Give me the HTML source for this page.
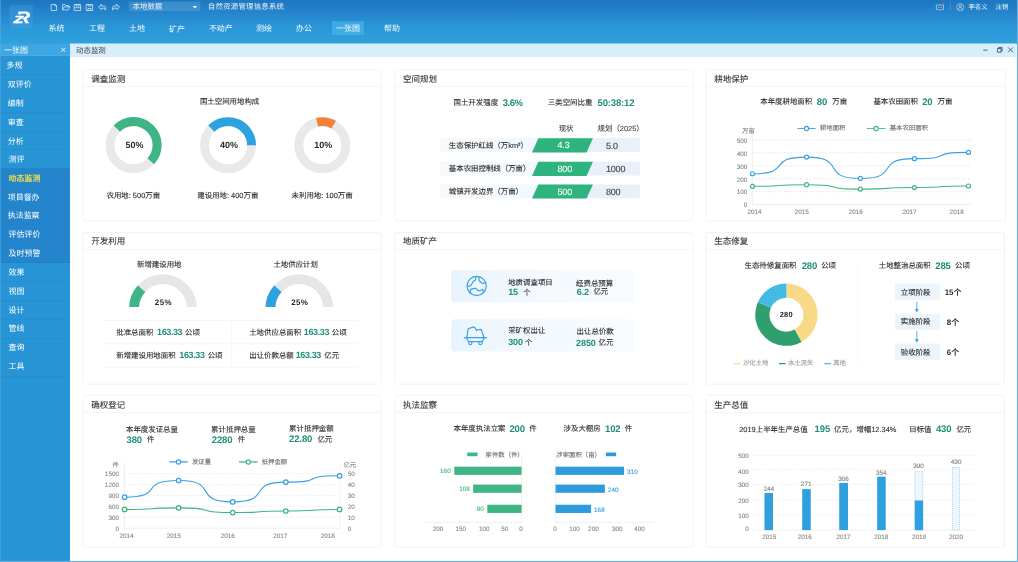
<!DOCTYPE html>
<html lang="zh-CN">
<head>
<meta charset="utf-8">
<title>自然资源管理信息系统</title>
<style>
html,body{margin:0;padding:0;width:1018px;height:562px;overflow:hidden;background:#fff}
#stage{position:absolute;left:0;top:0;width:1920px;height:1060px;transform:scale(0.530208,0.530189);transform-origin:0 0;font-family:"Liberation Sans","Noto Sans CJK SC",sans-serif;background:#fff;overflow:hidden;text-rendering:geometricPrecision;-webkit-text-stroke:0.18px}
.a{position:absolute;display:block}
.t{position:absolute;white-space:nowrap;display:block}
.hdr,.tabbar,.side{-webkit-text-stroke:0}
.hdr{color:#fff;background:linear-gradient(180deg,#1c77c0 0%,#2585cc 30%,#2a98d7 65%,#2fa1dc 100%)}
.logo{background:rgba(70,160,225,.38)}
.side{background:#2795d5}
.tabbar{background:#d8eefc;border-bottom:1px solid #d3e6f1;box-sizing:border-box}
.frame{position:absolute;left:0;top:0;width:1920px;height:1060px;box-sizing:border-box;border-right:2.200px solid #68aede;border-bottom:2.200px solid #68aede;border-left:1px solid #58aee3;pointer-events:none}
.card{position:absolute;box-sizing:border-box;background:#fff;border:1px solid #e8e8ec;border-radius:4.500px;margin:0}
.card .ct{position:absolute;left:0;top:0;right:0;margin:0;padding:0 0 0 15.500px;box-sizing:content-box;overflow:hidden;font-size:16px;line-height:32px;font-weight:400;color:#333;border-bottom:1px solid #ececef}
.card > .a, .card > .t{margin:-1px 0 0 -1px}
</style>
</head>
<body>
<div id="stage">
<header class="a hdr" style="left:0;top:0;width:1920px;height:82.500px"><div class="a logo" style="left:17.500px;top:10px;width:44.500px;height:44px"><svg class="a" style="left:0;top:0" width="45" height="44" viewBox="17.5 10 45 44" font-family='"Liberation Sans",sans-serif' font-weight="700" font-style="italic" fill="#fff" stroke="#fff"><text transform="translate(29 43.300) scale(1.2 1)" font-size="31" stroke-width="0.500">R</text><text transform="translate(25.300 43.300) scale(1.5 1)" font-size="19.500" stroke-width="0.900" style="filter:drop-shadow(1.200px 0 0 #2b90d6) drop-shadow(0 -1.200px 0 #2b90d6)">Z</text></svg></div>
<svg class="a" style="left:84.87px;top:0" width="150.88" height="30.18" viewBox="45 0 80 16" fill="none" stroke="#fff" stroke-width="0.700" stroke-opacity=".88" stroke-linejoin="round" stroke-linecap="round">
<path d="M51.500 4.500H55L56.500 6V10.500H51.500ZM55 4.500V6H56.500"/>
<path d="M62.500 9.600V4.500H65L65.800 5.500H68.500V6.800M62.500 9.600L64 6.800H70L68.300 9.600Z"/>
<path d="M74.500 4.500H80.500V10.500H74.500ZM74.500 7.700H80.500M76 4.500V6H79V4.500"/>
<path d="M86.500 4.500H92.500V10.500H86.500ZM88 4.500V6H91V4.500M88 10.500V8.500H91V10.500"/>
<path d="M101.300 4.500L98.500 7L101.300 9.500V8.100H103Q104.800 8.100 104.800 9.800H105.600V8Q105.600 5.900 103.200 5.900H101.300Z"/>
<path d="M116.700 4.500L119.500 7L116.700 9.500V8.100H115Q113.200 8.100 113.200 9.800H112.400V8Q112.400 5.900 114.800 5.900H116.700Z"/>
</svg>
<div class="a" style="left:243.0px;top:3.0px;width:135.0px;height:18.0px;background:rgba(255,255,255,.13);border-radius:1px"></div>
<span class="t" style="left:250.0px;top:-2.5px;font-size:14px;line-height:28px;color:rgba(255,255,255,.88);">本地数据</span>
<svg class="a" style="left:362.500px;top:10.500px" width="9" height="5" viewBox="0 0 9 5"><path d="M0.300 0.300h8.400L4.500 4.800z" fill="#fff" fill-opacity=".9"/></svg>
<span class="t" style="left:392.0px;top:-2.4px;font-size:14px;line-height:28px;color:rgba(255,255,255,.88);letter-spacing:0.4px;">自然资源管理信息系统</span>
<span class="t" style="left:91.4px;top:39.6px;font-size:15px;line-height:30px;color:rgba(255,255,255,.95);">系统</span>
<span class="t" style="left:168.0px;top:39.6px;font-size:15px;line-height:30px;color:rgba(255,255,255,.95);">工程</span>
<span class="t" style="left:243.3px;top:39.6px;font-size:15px;line-height:30px;color:rgba(255,255,255,.95);">土地</span>
<span class="t" style="left:318.7px;top:40.6px;font-size:15px;line-height:30px;color:rgba(255,255,255,.95);">矿产</span>
<span class="t" style="left:394.0px;top:39.6px;font-size:15px;line-height:30px;color:rgba(255,255,255,.95);">不动产</span>
<span class="t" style="left:483.0px;top:39.6px;font-size:15px;line-height:30px;color:rgba(255,255,255,.95);">测绘</span>
<span class="t" style="left:558.3px;top:39.6px;font-size:15px;line-height:30px;color:rgba(255,255,255,.95);">办公</span>
<div class="a" style="left:625.7px;top:40.0px;width:60.0px;height:26.0px;background:rgba(80,185,240,.6)"></div>
<span class="t" style="left:633.7px;top:39.6px;font-size:15px;line-height:30px;color:rgba(255,255,255,.95);">一张图</span>
<span class="t" style="left:724.2px;top:39.6px;font-size:15px;line-height:30px;color:rgba(255,255,255,.95);">帮助</span>
<svg class="a" style="left:1755px;top:2px" width="70" height="22" viewBox="1755 2 70 22" fill="none" stroke="#fff" stroke-width="1.2" stroke-opacity=".76">
<path d="M1766 9.500h13.500v8.500h-5l-2 2.200-2-2.200h-4.500z"/><circle cx="1769.600" cy="13.800" r=".8" fill="#fff" stroke="none"/><circle cx="1772.800" cy="13.800" r=".8" fill="#fff" stroke="none"/><circle cx="1776" cy="13.800" r=".8" fill="#fff" stroke="none"/>
<circle cx="1779" cy="8" r="2" fill="#f4564a" stroke="none" />
<path d="M1792.300 5v15" stroke-opacity=".3"/>
<circle cx="1811.100" cy="13.500" r="6.700"/><circle cx="1811.100" cy="11.600" r="2.400"/><path d="M1806.500 18.300c1-2.700 2.600-3.700 4.600-3.700s3.600 1 4.600 3.700"/>
</svg>
<span class="t" style="left:1826.6px;top:0.8px;font-size:12px;line-height:24px;color:rgba(255,255,255,.9);">李名义</span>
<span class="t" style="left:1877.7px;top:0.8px;font-size:12px;line-height:24px;color:rgba(255,255,255,.9);">注销</span></header>
<nav class="a side" style="left:0;top:82px;width:132px;height:978px"><div class="a" style="left:0.0px;top:0.0px;width:132.0px;height:23.4px;background:#3ea6e2;border-bottom:1px solid rgba(255,255,255,.25);box-sizing:border-box"></div>
<span class="t" style="left:7.8px;top:-0.8px;font-size:15px;line-height:30px;color:#fff;">一张图</span>
<span class="t" style="left:119.5px;top:-6.2px;font-size:18px;line-height:36px;color:rgba(255,255,255,.8);transform:translateX(-50%);">×</span>
<div class="a" style="left:0.0px;top:23.4px;width:132.0px;height:35.5px;border-bottom:1px solid rgba(0,40,90,.10);box-sizing:border-box"></div>
<span class="t" style="left:12.3px;top:27.5px;font-size:15px;line-height:30px;color:#fff;">多规</span>
<div class="a" style="left:0.0px;top:58.9px;width:132.0px;height:35.5px;border-bottom:1px solid rgba(0,40,90,.10);box-sizing:border-box"></div>
<span class="t" style="left:14.6px;top:63.1px;font-size:15px;line-height:30px;color:#fff;">双评价</span>
<div class="a" style="left:0.0px;top:94.5px;width:132.0px;height:35.5px;border-bottom:1px solid rgba(0,40,90,.10);box-sizing:border-box"></div>
<span class="t" style="left:14.6px;top:98.6px;font-size:15px;line-height:30px;color:#fff;">编制</span>
<div class="a" style="left:0.0px;top:130.1px;width:132.0px;height:35.5px;border-bottom:1px solid rgba(0,40,90,.10);box-sizing:border-box"></div>
<span class="t" style="left:14.6px;top:134.2px;font-size:15px;line-height:30px;color:#fff;">审查</span>
<div class="a" style="left:0.0px;top:165.6px;width:132.0px;height:35.5px;border-bottom:1px solid rgba(0,40,90,.10);box-sizing:border-box"></div>
<span class="t" style="left:14.6px;top:169.7px;font-size:15px;line-height:30px;color:#fff;">分析</span>
<div class="a" style="left:0.0px;top:201.2px;width:132.0px;height:35.5px;border-bottom:1px solid rgba(0,40,90,.10);box-sizing:border-box"></div>
<span class="t" style="left:16.2px;top:204.1px;font-size:15px;line-height:30px;color:#fff;">测评</span>
<div class="a" style="left:0.0px;top:234.5px;width:132.0px;height:2.4px;background:#2485cd"></div>
<div class="a" style="left:0.0px;top:236.7px;width:132.0px;height:35.5px;background:#2485cd;border-bottom:1px solid rgba(0,40,90,.10);box-sizing:border-box"></div>
<span class="t" style="left:16.2px;top:240.0px;font-size:15px;line-height:30px;color:#ffe640;-webkit-text-stroke:0.3px;">动态监测</span>
<div class="a" style="left:0.0px;top:272.3px;width:132.0px;height:35.5px;background:#2485cd;border-bottom:1px solid rgba(0,40,90,.10);box-sizing:border-box"></div>
<span class="t" style="left:14.6px;top:275.5px;font-size:15px;line-height:30px;color:#fff;">项目督办</span>
<div class="a" style="left:0.0px;top:307.8px;width:132.0px;height:35.5px;background:#2485cd;border-bottom:1px solid rgba(0,40,90,.10);box-sizing:border-box"></div>
<span class="t" style="left:14.6px;top:309.7px;font-size:15px;line-height:30px;color:#fff;">执法监察</span>
<div class="a" style="left:0.0px;top:343.4px;width:132.0px;height:35.5px;background:#2485cd;border-bottom:1px solid rgba(0,40,90,.10);box-sizing:border-box"></div>
<span class="t" style="left:16.1px;top:346.3px;font-size:15px;line-height:30px;color:#fff;">评估评价</span>
<div class="a" style="left:0.0px;top:378.9px;width:132.0px;height:35.5px;background:#2485cd;border-bottom:1px solid rgba(0,40,90,.10);box-sizing:border-box"></div>
<span class="t" style="left:16.1px;top:381.8px;font-size:15px;line-height:30px;color:#fff;">及时预警</span>
<div class="a" style="left:0.0px;top:414.5px;width:132.0px;height:35.5px;border-bottom:1px solid rgba(0,40,90,.10);box-sizing:border-box"></div>
<span class="t" style="left:16.1px;top:417.0px;font-size:15px;line-height:30px;color:#fff;">效果</span>
<div class="a" style="left:0.0px;top:450.0px;width:132.0px;height:35.5px;border-bottom:1px solid rgba(0,40,90,.10);box-sizing:border-box"></div>
<span class="t" style="left:16.1px;top:452.5px;font-size:15px;line-height:30px;color:#fff;">视图</span>
<div class="a" style="left:0.0px;top:485.6px;width:132.0px;height:35.5px;border-bottom:1px solid rgba(0,40,90,.10);box-sizing:border-box"></div>
<span class="t" style="left:16.1px;top:488.8px;font-size:15px;line-height:30px;color:#fff;">设计</span>
<div class="a" style="left:0.0px;top:521.1px;width:132.0px;height:35.5px;border-bottom:1px solid rgba(0,40,90,.10);box-sizing:border-box"></div>
<span class="t" style="left:16.1px;top:523.6px;font-size:15px;line-height:30px;color:#fff;">管线</span>
<div class="a" style="left:0.0px;top:556.6px;width:132.0px;height:35.5px;border-bottom:1px solid rgba(0,40,90,.10);box-sizing:border-box"></div>
<span class="t" style="left:16.1px;top:559.2px;font-size:15px;line-height:30px;color:#fff;">查询</span>
<div class="a" style="left:0.0px;top:592.2px;width:132.0px;height:35.5px;border-bottom:1px solid rgba(0,40,90,.10);box-sizing:border-box"></div>
<span class="t" style="left:16.1px;top:594.7px;font-size:15px;line-height:30px;color:#fff;">工具</span></nav>
<div class="a tabbar" style="left:132px;top:82px;width:1785px;height:25px"><span class="t" style="left:11.5px;top:-1.2px;font-size:14px;line-height:28px;color:#36404e;">动态监测</span>
<svg class="a" style="left:1712.500px;top:2.600px" width="70" height="18" viewBox="1842 84 70 18" fill="none" stroke="#2f4f70" stroke-width="1.6">
<path d="M1851.500 93.500h8"/><path d="M1878.500 90.500h6.500v7h-6.500z"/><path d="M1880.500 90.500v-2h6.500v7h-2"/><path d="M1898.500 88.500l9 9M1907.500 88.500l-9 9"/></svg></div>
<section class="card" style="left:155.6px;top:130.5px;width:563.2px;height:286.4px"><h2 class="ct" style="padding-top:2.1px;height:28.9px">调查监测</h2>
<span class="t" style="left:277.4px;top:47.4px;font-size:14px;line-height:28px;color:#2b2b2b;transform:translateX(-50%);">国土空间用地构成</span>
<span class="t" style="left:98.0px;top:127.2px;font-size:17px;line-height:34px;color:#2b2b2b;font-weight:700;-webkit-text-stroke:0;transform:translateX(-50%);">50%</span>
<span class="t" style="left:95.8px;top:224.4px;font-size:14px;line-height:28px;color:#2b2b2b;transform:translateX(-50%);">农用地: 500万亩</span>
<span class="t" style="left:276.3px;top:127.2px;font-size:17px;line-height:34px;color:#2b2b2b;font-weight:700;-webkit-text-stroke:0;transform:translateX(-50%);">40%</span>
<span class="t" style="left:274.1px;top:224.4px;font-size:14px;line-height:28px;color:#2b2b2b;transform:translateX(-50%);">建设用地: 400万亩</span>
<span class="t" style="left:454.1px;top:127.2px;font-size:17px;line-height:34px;color:#2b2b2b;font-weight:700;-webkit-text-stroke:0;transform:translateX(-50%);">10%</span>
<span class="t" style="left:451.9px;top:224.4px;font-size:14px;line-height:28px;color:#2b2b2b;transform:translateX(-50%);">未利用地: 100万亩</span>
<svg class="a" style="left:0;top:0" width="566" height="288" viewBox="155.6 130.5 566 288"><circle cx="251.4" cy="273.400" r="44.400" fill="none" stroke="#e9e9e8" stroke-width="16.800"/><path d="M214.06 236.06A52.8 52.8 0 0 1 290.02 309.41L277.73 297.95A36 36 0 0 0 225.94 247.94Z" fill="#3db585"/><circle cx="429.7" cy="273.400" r="44.400" fill="none" stroke="#e9e9e8" stroke-width="16.800"/><path d="M392.36 236.06A52.8 52.8 0 0 1 482.50 273.40L465.70 273.40A36 36 0 0 0 404.24 247.94Z" fill="#2ea2e0"/><circle cx="607.5" cy="273.400" r="44.400" fill="none" stroke="#e9e9e8" stroke-width="16.800"/><path d="M595.62 221.95A52.8 52.8 0 0 1 633.10 227.22L624.95 241.91A36 36 0 0 0 599.40 238.32Z" fill="#f0823a"/></svg>
</section>
<section class="card" style="left:743.7px;top:130.5px;width:563.3px;height:286.4px"><h2 class="ct" style="padding-top:2.1px;height:28.9px">空间规划</h2>
<span class="t" style="left:111.7px;top:48.4px;font-size:14px;line-height:28px;color:#2b2b2b;">国土开发强度</span>
<span class="t" style="left:204.7px;top:45.1px;font-size:18px;line-height:36px;color:#1f8f79;font-weight:700;-webkit-text-stroke:0;letter-spacing:-1px;">3.6%</span>
<span class="t" style="left:289.5px;top:48.4px;font-size:14px;line-height:28px;color:#2b2b2b;">三类空间比重</span>
<span class="t" style="left:383.2px;top:45.1px;font-size:18px;line-height:36px;color:#1f8f79;font-weight:700;-webkit-text-stroke:0;letter-spacing:-0.3px;">50:38:12</span>
<span class="t" style="left:324.0px;top:97.2px;font-size:14px;line-height:28px;color:#444;transform:translateX(-50%);">现状</span>
<span class="t" style="left:383.3px;top:97.2px;font-size:14px;line-height:28px;color:#444;">规划（2025）</span>
<div class="a" style="left:86.3px;top:129.9px;width:377.5px;height:26.6px;background:linear-gradient(90deg,#f6fafd 0,#f3f8fc 48%,#e8f1f9 52%,#e8f1f9 100%)"></div>
<span class="t" style="left:102.8px;top:129.3px;font-size:14px;line-height:28px;color:#2b2b2b;">生态保护红线（万km²）</span>
<div class="a" style="left:86.3px;top:174.2px;width:377.5px;height:26.6px;background:linear-gradient(90deg,#f6fafd 0,#f3f8fc 48%,#e8f1f9 52%,#e8f1f9 100%)"></div>
<span class="t" style="left:102.8px;top:173.6px;font-size:14px;line-height:28px;color:#2b2b2b;">基本农田控制线（万亩）</span>
<div class="a" style="left:86.3px;top:217.0px;width:377.5px;height:26.6px;background:linear-gradient(90deg,#f6fafd 0,#f3f8fc 48%,#e8f1f9 52%,#e8f1f9 100%)"></div>
<span class="t" style="left:102.8px;top:216.4px;font-size:14px;line-height:28px;color:#2b2b2b;">城镇开发边界（万亩）</span>
<svg class="a" style="left:0;top:0" width="566" height="288" viewBox="743.7 130.5 566 288"><path d="M1015 260.4H1118L1106 287.0H1003Z" fill="#2fb37f"/><path d="M1015 304.7H1118L1106 331.3H1003Z" fill="#2fb37f"/><path d="M1015 347.5H1118L1106 374.1H1003Z" fill="#2fb37f"/></svg>
<span class="t" style="left:307.9px;top:127.4px;font-size:17px;line-height:34px;color:#fff;letter-spacing:-0.4px;">4.3</span>
<span class="t" style="left:399.3px;top:128.1px;font-size:17px;line-height:34px;color:#3c3c3c;letter-spacing:-0.4px;">5.0</span>
<span class="t" style="left:307.9px;top:172.2px;font-size:17px;line-height:34px;color:#fff;letter-spacing:-0.4px;">800</span>
<span class="t" style="left:399.3px;top:172.2px;font-size:17px;line-height:34px;color:#3c3c3c;letter-spacing:-0.4px;">1000</span>
<span class="t" style="left:307.9px;top:215.6px;font-size:17px;line-height:34px;color:#fff;letter-spacing:-0.4px;">500</span>
<span class="t" style="left:399.3px;top:215.6px;font-size:17px;line-height:34px;color:#3c3c3c;letter-spacing:-0.4px;">800</span>
</section>
<section class="card" style="left:1330.8px;top:130.5px;width:565.9px;height:286.4px"><h2 class="ct" style="padding-top:2.1px;height:28.9px">耕地保护</h2>
<span class="t" style="left:103.1px;top:47.4px;font-size:14px;line-height:28px;color:#2b2b2b;">本年度耕地面积</span>
<span class="t" style="left:209.8px;top:43.7px;font-size:18px;line-height:36px;color:#1f8f79;font-weight:700;-webkit-text-stroke:0;letter-spacing:-0.3px;">80</span>
<span class="t" style="left:238.8px;top:47.4px;font-size:14px;line-height:28px;color:#2b2b2b;">万亩</span>
<span class="t" style="left:316.5px;top:47.4px;font-size:14px;line-height:28px;color:#2b2b2b;">基本农田面积</span>
<span class="t" style="left:408.4px;top:43.7px;font-size:18px;line-height:36px;color:#1f8f79;font-weight:700;-webkit-text-stroke:0;letter-spacing:-0.3px;">20</span>
<span class="t" style="left:437.4px;top:47.4px;font-size:14px;line-height:28px;color:#2b2b2b;">万亩</span>
<svg class="a" style="left:0;top:0" width="566" height="288" viewBox="1330.8 130.5 566 288"><path d="M1418.5 263.3H1831" stroke="#cdcdcd" stroke-width="1" stroke-dasharray="3 3"/><path d="M1418.5 287.7H1831" stroke="#cdcdcd" stroke-width="1" stroke-dasharray="3 3"/><path d="M1418.5 312.2H1831" stroke="#cdcdcd" stroke-width="1" stroke-dasharray="3 3"/><path d="M1418.5 336.6H1831" stroke="#cdcdcd" stroke-width="1" stroke-dasharray="3 3"/><path d="M1418.5 361.1H1831" stroke="#cdcdcd" stroke-width="1" stroke-dasharray="3 3"/><path d="M1418.5 248V385.5H1831" stroke="#dedede" stroke-width="1" fill="none"/><path d="M1419.0 327.2C1498.6 327.2 1441.4 295.8 1521.0 295.8C1600.2 295.8 1543.3 336.1 1622.5 336.1C1702.0 336.1 1644.9 298.7 1724.4 298.7C1804.0 298.7 1746.8 286.9 1826.4 286.9" fill="none" stroke="#3a9fe0" stroke-width="2"/><circle cx="1419" cy="327.2" r="3.8" fill="#fff" stroke="#3a9fe0" stroke-width="2.2"/><circle cx="1521" cy="295.8" r="3.8" fill="#fff" stroke="#3a9fe0" stroke-width="2.2"/><circle cx="1622.5" cy="336.1" r="3.8" fill="#fff" stroke="#3a9fe0" stroke-width="2.2"/><circle cx="1724.4" cy="298.7" r="3.8" fill="#fff" stroke="#3a9fe0" stroke-width="2.2"/><circle cx="1826.4" cy="286.9" r="3.8" fill="#fff" stroke="#3a9fe0" stroke-width="2.2"/><path d="M1419.0 350.9C1498.6 350.9 1441.4 347.9 1521.0 347.9C1600.2 347.9 1543.3 356.2 1622.5 356.2C1702.0 356.2 1644.9 353.3 1724.4 353.3C1804.0 353.3 1746.8 350.3 1826.4 350.3" fill="none" stroke="#3db585" stroke-width="2"/><circle cx="1419" cy="350.9" r="3.8" fill="#fff" stroke="#3db585" stroke-width="2.2"/><circle cx="1521" cy="347.9" r="3.8" fill="#fff" stroke="#3db585" stroke-width="2.2"/><circle cx="1622.5" cy="356.2" r="3.8" fill="#fff" stroke="#3db585" stroke-width="2.2"/><circle cx="1724.4" cy="353.3" r="3.8" fill="#fff" stroke="#3db585" stroke-width="2.2"/><circle cx="1826.4" cy="350.3" r="3.8" fill="#fff" stroke="#3db585" stroke-width="2.2"/><path d="M1503.4 241.8h35" stroke="#3a9fe0" stroke-width="1.7"/><circle cx="1520.9" cy="241.8" r="4" fill="#fff" stroke="#3a9fe0" stroke-width="2.200"/><path d="M1634.8 241.8h35" stroke="#3db585" stroke-width="1.7"/><circle cx="1652.3" cy="241.8" r="4" fill="#fff" stroke="#3db585" stroke-width="2.200"/></svg>
<span class="t" style="left:215.7px;top:99.0px;font-size:12px;line-height:24px;color:#6f6f6f;">耕地面积</span>
<span class="t" style="left:347.3px;top:99.0px;font-size:12px;line-height:24px;color:#6f6f6f;">基本农田面积</span>
<span class="t" style="left:68.7px;top:103.5px;font-size:12px;line-height:24px;color:#858585;">万亩</span>
<span class="t" style="left:78.7px;top:122.2px;font-size:12px;line-height:24px;color:#858585;transform:translateX(-100%);">500</span>
<span class="t" style="left:78.7px;top:147.0px;font-size:12px;line-height:24px;color:#858585;transform:translateX(-100%);">400</span>
<span class="t" style="left:78.7px;top:171.1px;font-size:12px;line-height:24px;color:#858585;transform:translateX(-100%);">300</span>
<span class="t" style="left:78.7px;top:196.2px;font-size:12px;line-height:24px;color:#858585;transform:translateX(-100%);">200</span>
<span class="t" style="left:78.7px;top:219.7px;font-size:12px;line-height:24px;color:#858585;transform:translateX(-100%);">100</span>
<span class="t" style="left:78.7px;top:244.4px;font-size:12px;line-height:24px;color:#858585;transform:translateX(-100%);">0</span>
<span class="t" style="left:92.2px;top:257.2px;font-size:12px;line-height:24px;color:#858585;transform:translateX(-50%);">2014</span>
<span class="t" style="left:181.2px;top:257.2px;font-size:12px;line-height:24px;color:#858585;transform:translateX(-50%);">2015</span>
<span class="t" style="left:283.2px;top:257.2px;font-size:12px;line-height:24px;color:#858585;transform:translateX(-50%);">2016</span>
<span class="t" style="left:384.7px;top:257.2px;font-size:12px;line-height:24px;color:#858585;transform:translateX(-50%);">2017</span>
<span class="t" style="left:473.6px;top:257.2px;font-size:12px;line-height:24px;color:#858585;transform:translateX(-50%);">2018</span>
</section>
<section class="card" style="left:155.6px;top:437.5px;width:563.2px;height:287.3px"><h2 class="ct" style="padding-top:2.7px;height:28.5px">开发利用</h2>
<span class="t" style="left:144.8px;top:46.4px;font-size:14px;line-height:28px;color:#2b2b2b;transform:translateX(-50%);">新增建设用地</span>
<span class="t" style="left:402.1px;top:46.4px;font-size:14px;line-height:28px;color:#2b2b2b;transform:translateX(-50%);">土地供应计划</span>
<span class="t" style="left:152.6px;top:118.4px;font-size:15px;line-height:30px;color:#2b2b2b;font-weight:700;-webkit-text-stroke:0;letter-spacing:0.8px;transform:translateX(-50%);">25%</span>
<span class="t" style="left:409.8px;top:118.4px;font-size:15px;line-height:30px;color:#2b2b2b;font-weight:700;-webkit-text-stroke:0;letter-spacing:0.8px;transform:translateX(-50%);">25%</span>
<svg class="a" style="left:0;top:0" width="566" height="288" viewBox="155.6 437.5 566 288"><g clip-path="url(#gclip)"><path d="M243.36 584.95A63.8 63.8 0 1 1 370.64 584.95L352.09 583.65A45.2 45.2 0 1 0 261.91 583.65Z" fill="#e6e6e6"/><path d="M243.36 584.95A63.8 63.8 0 0 1 259.59 537.81L273.41 550.26A45.2 45.2 0 0 0 261.91 583.65Z" fill="#3db585"/></g><g clip-path="url(#gclip)"><path d="M500.56 584.95A63.8 63.8 0 1 1 627.84 584.95L609.29 583.65A45.2 45.2 0 1 0 519.11 583.65Z" fill="#e6e6e6"/><path d="M500.56 584.95A63.8 63.8 0 0 1 516.79 537.81L530.61 550.26A45.2 45.2 0 0 0 519.11 583.65Z" fill="#2ea2e0"/></g><defs><clipPath id="gclip"><rect x="156" y="500" width="562" height="78.500"/></clipPath></defs><path d="M197 604H673.5M197 648H673.5M197 693H673.5" stroke="#eeeeee" stroke-width="1"/><path d="M436.500 604V693" stroke="#eeeeee" stroke-width="1"/></svg>
<span class="t" style="left:63.6px;top:174.9px;font-size:14px;line-height:28px;color:#2b2b2b;">批准总面积</span>
<span class="t" style="left:140.6px;top:172.8px;font-size:17px;line-height:34px;color:#1f8f79;font-weight:700;-webkit-text-stroke:0;letter-spacing:-0.75px;">163.33</span>
<span class="t" style="left:193.4px;top:174.9px;font-size:14px;line-height:28px;color:#2b2b2b;">公顷</span>
<span class="t" style="left:63.6px;top:218.2px;font-size:14px;line-height:28px;color:#2b2b2b;">新增建设用地面积</span>
<span class="t" style="left:182.7px;top:216.0px;font-size:17px;line-height:34px;color:#1f8f79;font-weight:700;-webkit-text-stroke:0;letter-spacing:-0.75px;">163.33</span>
<span class="t" style="left:236.1px;top:218.2px;font-size:14px;line-height:28px;color:#2b2b2b;">公顷</span>
<span class="t" style="left:314.4px;top:174.9px;font-size:14px;line-height:28px;color:#2b2b2b;">土地供应总面积</span>
<span class="t" style="left:417.5px;top:172.8px;font-size:17px;line-height:34px;color:#1f8f79;font-weight:700;-webkit-text-stroke:0;letter-spacing:-0.75px;">163.33</span>
<span class="t" style="left:470.3px;top:174.9px;font-size:14px;line-height:28px;color:#2b2b2b;">公顷</span>
<span class="t" style="left:314.4px;top:218.2px;font-size:14px;line-height:28px;color:#2b2b2b;">出让价款总额</span>
<span class="t" style="left:402.1px;top:216.0px;font-size:17px;line-height:34px;color:#1f8f79;font-weight:700;-webkit-text-stroke:0;letter-spacing:-0.75px;">163.33</span>
<span class="t" style="left:456.1px;top:218.2px;font-size:14px;line-height:28px;color:#2b2b2b;">亿元</span>
</section>
<section class="card" style="left:743.7px;top:437.5px;width:563.3px;height:287.3px"><h2 class="ct" style="padding-top:2.7px;height:28.5px">地质矿产</h2>
<div class="a" style="left:106.9px;top:71.6px;width:344.0px;height:61.0px;background:linear-gradient(90deg,#e7f3fd 0,#eff7fd 22%,#f5fafe 60%,#f7fbfe 100%);border-radius:7px"></div>
<div class="a" style="left:106.9px;top:164.1px;width:344.0px;height:61.0px;background:linear-gradient(90deg,#e7f3fd 0,#eff7fd 22%,#f5fafe 60%,#f7fbfe 100%);border-radius:7px"></div>
<svg class="a" style="left:0;top:0" width="566" height="288" viewBox="743.7 437.5 566 288"><g transform="translate(898.7 538.9)" fill="none" stroke="#3ca1e3" stroke-width="2.200" stroke-linejoin="round" stroke-linecap="round">
<circle cx="0" cy="0" r="18.100"/>
<path d="M-1.800 -17.500L-2 -11.200L-7 -8.100L-9 -4.200L-11.200 -0.700L-17.600 0.900"/>
<path d="M4.100 -17.300L4.500 -10.700Q6 -7 11.200 -4.800L17.200 -6.200"/>
<path d="M-12.800 12.800L-11.400 6.500L-2.300 4.100L3.500 9.400L11.200 6.500L12.800 12.300"/>
</g>
<g transform="translate(896.3 636.4)" fill="none" stroke="#3ca1e3" stroke-width="2.200" stroke-linejoin="round" stroke-linecap="round">
<path d="M-21 0H21"/>
<path d="M-17 0L-12.900 7.300H12.900L17 0"/>
<path d="M-12.500 7.500v3a2.900 2.900 0 0 0 5.800 0V7.500M6.700 7.500v3a2.900 2.900 0 0 0 5.800 0V7.500"/>
<path d="M-16.400 0L-13.500 -16.800L-3.500 -20.300L-0.500 -18.500L2.300 -13.300L4.800 -15L11.200 -15.600L13.500 -8L16.400 0"/>
</g></svg>
<span class="t" style="left:214.8px;top:80.5px;font-size:14px;line-height:28px;color:#2b2b2b;">地质调查项目</span>
<span class="t" style="left:214.8px;top:96.2px;font-size:17px;line-height:34px;color:#1f8f79;font-weight:700;-webkit-text-stroke:0;letter-spacing:-0.2px;">15</span>
<span class="t" style="left:243.3px;top:99.0px;font-size:14px;line-height:28px;color:#2b2b2b;">个</span>
<span class="t" style="left:342.8px;top:82.0px;font-size:14px;line-height:28px;color:#2b2b2b;">经费总预算</span>
<span class="t" style="left:344.1px;top:97.2px;font-size:17px;line-height:34px;color:#1f8f79;font-weight:700;-webkit-text-stroke:0;letter-spacing:-0.2px;">6.2</span>
<span class="t" style="left:375.5px;top:98.7px;font-size:14px;line-height:28px;color:#2b2b2b;">亿元</span>
<span class="t" style="left:214.8px;top:172.0px;font-size:14px;line-height:28px;color:#2b2b2b;">采矿权出让</span>
<span class="t" style="left:214.8px;top:191.2px;font-size:17px;line-height:34px;color:#1f8f79;font-weight:700;-webkit-text-stroke:0;letter-spacing:-0.2px;">300</span>
<span class="t" style="left:246.3px;top:193.4px;font-size:14px;line-height:28px;color:#2b2b2b;">个</span>
<span class="t" style="left:343.8px;top:173.1px;font-size:14px;line-height:28px;color:#2b2b2b;">出让总价款</span>
<span class="t" style="left:342.8px;top:192.2px;font-size:17px;line-height:34px;color:#1f8f79;font-weight:700;-webkit-text-stroke:0;letter-spacing:-0.2px;">2850</span>
<span class="t" style="left:385.3px;top:194.4px;font-size:14px;line-height:28px;color:#2b2b2b;">亿元</span>
</section>
<section class="card" style="left:1330.8px;top:437.5px;width:564.1px;height:287.3px"><h2 class="ct" style="padding-top:2.7px;height:28.5px">生态修复</h2>
<span class="t" style="left:73.4px;top:49.2px;font-size:14px;line-height:28px;color:#2b2b2b;">生态待修复面积</span>
<span class="t" style="left:181.2px;top:45.9px;font-size:18px;line-height:36px;color:#1f8f79;font-weight:700;-webkit-text-stroke:0;letter-spacing:-0.3px;">280</span>
<span class="t" style="left:218.0px;top:49.2px;font-size:14px;line-height:28px;color:#2b2b2b;">公顷</span>
<span class="t" style="left:326.5px;top:49.2px;font-size:14px;line-height:28px;color:#2b2b2b;">土地整治总面积</span>
<span class="t" style="left:433.2px;top:45.9px;font-size:18px;line-height:36px;color:#1f8f79;font-weight:700;-webkit-text-stroke:0;letter-spacing:-0.3px;">285</span>
<span class="t" style="left:470.6px;top:49.2px;font-size:14px;line-height:28px;color:#2b2b2b;">公顷</span>
<svg class="a" style="left:0;top:0" width="566" height="288" viewBox="1330.8 437.5 566 288"><path d="M1617.500 498.500V685" stroke="#eeeeee" stroke-width="1"/><path d="M1483.00 534.20A58.8 58.8 0 0 1 1511.51 644.43L1498.51 620.99A32 32 0 0 0 1483.00 561.00Z" fill="#f7d987"/><path d="M1511.51 644.43A58.8 58.8 0 0 1 1429.28 569.08L1453.77 579.98A32 32 0 0 0 1498.51 620.99Z" fill="#2f9f6f"/><path d="M1429.28 569.08A58.8 58.8 0 0 1 1483.00 534.20L1483.00 561.00A32 32 0 0 0 1453.77 579.98Z" fill="#43bbe5"/><rect x="1383.4" y="684" width="13" height="2.500" rx="1" fill="#f7d987"/><rect x="1468.8" y="684" width="13" height="2.500" rx="1" fill="#2f9f6f"/><rect x="1554.2" y="684" width="13" height="2.500" rx="1" fill="#43bbe5"/><path d="M1729 568.5V586" stroke="#3ea9e6" stroke-width="1.700"/><path d="M1725 582.5L1729 589L1733 582.5Z" fill="#3ea9e6"/><path d="M1729 624V643" stroke="#3ea9e6" stroke-width="1.700"/><path d="M1725 639.5L1729 646L1733 639.5Z" fill="#3ea9e6"/></svg>
<span class="t" style="left:152.2px;top:140.8px;font-size:14px;line-height:28px;color:#2b2b2b;font-weight:700;-webkit-text-stroke:0;letter-spacing:0.5px;transform:translateX(-50%);">280</span>
<span class="t" style="left:70.5px;top:235.4px;font-size:12px;line-height:24px;color:#999;">沙化土地</span>
<span class="t" style="left:155.2px;top:235.4px;font-size:12px;line-height:24px;color:#999;">水土流失</span>
<span class="t" style="left:240.6px;top:235.4px;font-size:12px;line-height:24px;color:#999;">其他</span>
<div class="a" style="left:356.8px;top:97.7px;width:85.5px;height:30.5px;background:#ecf4fc"></div>
<span class="t" style="left:396.2px;top:99.1px;font-size:14px;line-height:28px;color:#2b2b2b;transform:translateX(-50%);">立项阶段</span>
<span class="t" style="left:466.7px;top:99.1px;font-size:15px;line-height:30px;color:#2b2b2b;font-weight:700;-webkit-text-stroke:0;transform:translateX(-50%);">15个</span>
<div class="a" style="left:356.8px;top:154.0px;width:85.5px;height:30.5px;background:#ecf4fc"></div>
<span class="t" style="left:396.2px;top:155.4px;font-size:14px;line-height:28px;color:#2b2b2b;transform:translateX(-50%);">实施阶段</span>
<span class="t" style="left:466.7px;top:156.0px;font-size:15px;line-height:30px;color:#2b2b2b;font-weight:700;-webkit-text-stroke:0;transform:translateX(-50%);">8个</span>
<div class="a" style="left:356.8px;top:210.9px;width:85.5px;height:30.5px;background:#ecf4fc"></div>
<span class="t" style="left:396.2px;top:212.3px;font-size:14px;line-height:28px;color:#2b2b2b;transform:translateX(-50%);">验收阶段</span>
<span class="t" style="left:466.7px;top:212.3px;font-size:15px;line-height:30px;color:#2b2b2b;font-weight:700;-webkit-text-stroke:0;transform:translateX(-50%);">6个</span>
</section>
<section class="card" style="left:155.6px;top:745px;width:563.2px;height:287.8px"><h2 class="ct" style="padding-top:2.9px;height:29.6px">确权登记</h2>
<span class="t" style="left:82.0px;top:50.0px;font-size:14px;line-height:28px;color:#2b2b2b;">本年度发证总量</span>
<span class="t" style="left:83.1px;top:66.8px;font-size:18px;line-height:36px;color:#1f8f79;font-weight:700;-webkit-text-stroke:0;letter-spacing:-0.3px;">380</span>
<span class="t" style="left:121.7px;top:70.1px;font-size:14px;line-height:28px;color:#2b2b2b;">件</span>
<span class="t" style="left:242.6px;top:50.0px;font-size:14px;line-height:28px;color:#2b2b2b;">累计抵押总量</span>
<span class="t" style="left:243.8px;top:66.8px;font-size:18px;line-height:36px;color:#1f8f79;font-weight:700;-webkit-text-stroke:0;letter-spacing:-0.3px;">2280</span>
<span class="t" style="left:293.0px;top:70.1px;font-size:14px;line-height:28px;color:#2b2b2b;">件</span>
<span class="t" style="left:389.7px;top:48.5px;font-size:14px;line-height:28px;color:#2b2b2b;">累计抵押金额</span>
<span class="t" style="left:389.7px;top:65.2px;font-size:18px;line-height:36px;color:#1f8f79;font-weight:700;-webkit-text-stroke:0;letter-spacing:-0.3px;">22.80</span>
<span class="t" style="left:443.0px;top:68.9px;font-size:14px;line-height:28px;color:#2b2b2b;">亿元</span>
<svg class="a" style="left:0;top:0" width="566" height="288" viewBox="155.6 745.0 566 288"><path d="M640.700 873V996.200" stroke="#e8e8e8" fill="none"/><path d="M234 893.4H640.7" stroke="#dadada" stroke-width="1" stroke-dasharray="3 3"/><path d="M234 914H640.7" stroke="#dadada" stroke-width="1" stroke-dasharray="3 3"/><path d="M234 934.5H640.7" stroke="#dadada" stroke-width="1" stroke-dasharray="3 3"/><path d="M234 955.1H640.7" stroke="#dadada" stroke-width="1" stroke-dasharray="3 3"/><path d="M234 975.6H640.7" stroke="#dadada" stroke-width="1" stroke-dasharray="3 3"/><path d="M234 873V996.2H640.7" stroke="#dedede" stroke-width="1" fill="none"/><path d="M234.6 937.7C314.1 937.7 257.0 906.3 336.5 906.3C416.1 906.3 358.9 946.6 438.5 946.6C516.7 946.6 460.5 909.3 538.7 909.3C617.8 909.3 561.0 897.4 640.1 897.4" fill="none" stroke="#3a9fe0" stroke-width="2"/><circle cx="234.6" cy="937.7" r="4.2" fill="#fff" stroke="#3a9fe0" stroke-width="2.4"/><circle cx="336.5" cy="906.3" r="4.2" fill="#fff" stroke="#3a9fe0" stroke-width="2.4"/><circle cx="438.5" cy="946.6" r="4.2" fill="#fff" stroke="#3a9fe0" stroke-width="2.4"/><circle cx="538.7" cy="909.3" r="4.2" fill="#fff" stroke="#3a9fe0" stroke-width="2.4"/><circle cx="640.1" cy="897.4" r="4.2" fill="#fff" stroke="#3a9fe0" stroke-width="2.4"/><path d="M234.6 960.9C314.1 960.9 257.0 957.9 336.5 957.9C416.1 957.9 358.9 966.8 438.5 966.8C516.7 966.8 460.5 963.8 538.7 963.8C617.8 963.8 561.0 960.9 640.1 960.9" fill="none" stroke="#3db585" stroke-width="2"/><circle cx="234.6" cy="960.9" r="4.2" fill="#fff" stroke="#3db585" stroke-width="2.4"/><circle cx="336.5" cy="957.9" r="4.2" fill="#fff" stroke="#3db585" stroke-width="2.4"/><circle cx="438.5" cy="966.8" r="4.2" fill="#fff" stroke="#3db585" stroke-width="2.4"/><circle cx="538.7" cy="963.8" r="4.2" fill="#fff" stroke="#3db585" stroke-width="2.4"/><circle cx="640.1" cy="960.9" r="4.2" fill="#fff" stroke="#3db585" stroke-width="2.4"/><path d="M318.8 871.3h35" stroke="#3a9fe0" stroke-width="2.3"/><circle cx="336.3" cy="871.3" r="4" fill="#fff" stroke="#3a9fe0" stroke-width="2.200"/><path d="M450.4 871.3h35" stroke="#3db585" stroke-width="2.3"/><circle cx="467.9" cy="871.3" r="4" fill="#fff" stroke="#3db585" stroke-width="2.200"/></svg>
<span class="t" style="left:206.4px;top:114.0px;font-size:12px;line-height:24px;color:#6f6f6f;">发证量</span>
<span class="t" style="left:338.1px;top:114.0px;font-size:12px;line-height:24px;color:#6f6f6f;">抵押金额</span>
<span class="t" style="left:62.4px;top:118.7px;font-size:12px;line-height:24px;color:#858585;transform:translateX(-50%);">件</span>
<span class="t" style="left:504.1px;top:118.7px;font-size:12px;line-height:24px;color:#858585;transform:translateX(-50%);">亿元</span>
<span class="t" style="left:68.9px;top:137.1px;font-size:12px;line-height:24px;color:#858585;transform:translateX(-100%);">1500</span>
<span class="t" style="left:500.4px;top:137.1px;font-size:12px;line-height:24px;color:#858585;">50</span>
<span class="t" style="left:68.9px;top:157.8px;font-size:12px;line-height:24px;color:#858585;transform:translateX(-100%);">1200</span>
<span class="t" style="left:500.4px;top:157.8px;font-size:12px;line-height:24px;color:#858585;">40</span>
<span class="t" style="left:68.9px;top:178.2px;font-size:12px;line-height:24px;color:#858585;transform:translateX(-100%);">900</span>
<span class="t" style="left:500.4px;top:178.2px;font-size:12px;line-height:24px;color:#858585;">30</span>
<span class="t" style="left:68.9px;top:198.9px;font-size:12px;line-height:24px;color:#858585;transform:translateX(-100%);">600</span>
<span class="t" style="left:500.4px;top:198.9px;font-size:12px;line-height:24px;color:#858585;">20</span>
<span class="t" style="left:68.9px;top:219.4px;font-size:12px;line-height:24px;color:#858585;transform:translateX(-100%);">300</span>
<span class="t" style="left:500.4px;top:219.4px;font-size:12px;line-height:24px;color:#858585;">10</span>
<span class="t" style="left:68.9px;top:240.0px;font-size:12px;line-height:24px;color:#858585;transform:translateX(-100%);">0</span>
<span class="t" style="left:500.4px;top:240.0px;font-size:12px;line-height:24px;color:#858585;">0</span>
<span class="t" style="left:83.1px;top:254.0px;font-size:12px;line-height:24px;color:#858585;transform:translateX(-50%);">2014</span>
<span class="t" style="left:172.1px;top:254.0px;font-size:12px;line-height:24px;color:#858585;transform:translateX(-50%);">2015</span>
<span class="t" style="left:274.1px;top:254.0px;font-size:12px;line-height:24px;color:#858585;transform:translateX(-50%);">2016</span>
<span class="t" style="left:373.1px;top:254.0px;font-size:12px;line-height:24px;color:#858585;transform:translateX(-50%);">2017</span>
<span class="t" style="left:462.6px;top:254.0px;font-size:12px;line-height:24px;color:#858585;transform:translateX(-50%);">2018</span>
</section>
<section class="card" style="left:743.7px;top:745px;width:563.3px;height:287.8px"><h2 class="ct" style="padding-top:2.9px;height:29.6px">执法监察</h2>
<span class="t" style="left:111.7px;top:49.4px;font-size:14px;line-height:28px;color:#2b2b2b;">本年度执法立案</span>
<span class="t" style="left:217.2px;top:46.1px;font-size:18px;line-height:36px;color:#1f8f79;font-weight:700;-webkit-text-stroke:0;letter-spacing:-0.3px;">200</span>
<span class="t" style="left:254.6px;top:49.4px;font-size:14px;line-height:28px;color:#2b2b2b;">件</span>
<span class="t" style="left:319.2px;top:49.4px;font-size:14px;line-height:28px;color:#2b2b2b;">涉及大棚房</span>
<span class="t" style="left:397.4px;top:46.1px;font-size:18px;line-height:36px;color:#1f8f79;font-weight:700;-webkit-text-stroke:0;letter-spacing:-0.3px;">102</span>
<span class="t" style="left:434.8px;top:49.4px;font-size:14px;line-height:28px;color:#2b2b2b;">件</span>
<span class="t" style="left:96.3px;top:131.5px;font-size:12px;line-height:24px;color:#3db585;transform:translateX(-50%);">160</span>
<span class="t" style="left:132.4px;top:165.2px;font-size:12px;line-height:24px;color:#3db585;transform:translateX(-50%);">108</span>
<span class="t" style="left:162.1px;top:203.2px;font-size:12px;line-height:24px;color:#3db585;transform:translateX(-50%);">80</span>
<span class="t" style="left:449.0px;top:132.5px;font-size:12px;line-height:24px;color:#2e9bdc;transform:translateX(-50%);">310</span>
<span class="t" style="left:412.8px;top:166.6px;font-size:12px;line-height:24px;color:#2e9bdc;transform:translateX(-50%);">240</span>
<span class="t" style="left:386.8px;top:204.2px;font-size:12px;line-height:24px;color:#2e9bdc;transform:translateX(-50%);">168</span>
<svg class="a" style="left:0;top:0" width="566" height="288" viewBox="743.7 745.0 566 288"><rect x="880.900" y="853.500" width="19.500" height="7" fill="#3db585"/><rect x="1142.300" y="853.500" width="19.500" height="7" fill="#2e9bdc"/><path d="M801.400 985.200H983.400V857" stroke="#e3e3e3" fill="none"/><path d="M1233 985.200H1047.500V857" stroke="#e3e3e3" fill="none"/><rect x="856.6" y="880.2" width="126.8" height="15.500" fill="#3db585"/><rect x="892.1" y="914" width="91.3" height="15.500" fill="#3db585"/><rect x="918.8" y="952" width="64.6" height="15.500" fill="#3db585"/><rect x="1047.500" y="880.2" width="129.2" height="15.500" fill="#2e9bdc"/><rect x="1047.500" y="914" width="93.0" height="15.500" fill="#2e9bdc"/><rect x="1047.500" y="952" width="67.0" height="15.500" fill="#2e9bdc"/></svg>
<span class="t" style="left:172.1px;top:100.5px;font-size:12px;line-height:24px;color:#6f6f6f;">案件数（件）</span>
<span class="t" style="left:305.6px;top:100.5px;font-size:12px;line-height:24px;color:#6f6f6f;">涉案面积（亩）</span>
<span class="t" style="left:82.6px;top:240.2px;font-size:12px;line-height:24px;color:#858585;transform:translateX(-50%);">200</span>
<span class="t" style="left:125.3px;top:240.2px;font-size:12px;line-height:24px;color:#858585;transform:translateX(-50%);">150</span>
<span class="t" style="left:169.8px;top:240.2px;font-size:12px;line-height:24px;color:#858585;transform:translateX(-50%);">100</span>
<span class="t" style="left:208.3px;top:240.2px;font-size:12px;line-height:24px;color:#858585;transform:translateX(-50%);">50</span>
<span class="t" style="left:239.2px;top:240.2px;font-size:12px;line-height:24px;color:#858585;transform:translateX(-50%);">0</span>
<span class="t" style="left:303.1px;top:240.2px;font-size:12px;line-height:24px;color:#858585;transform:translateX(-50%);">0</span>
<span class="t" style="left:339.9px;top:240.2px;font-size:12px;line-height:24px;color:#858585;transform:translateX(-50%);">100</span>
<span class="t" style="left:375.5px;top:240.2px;font-size:12px;line-height:24px;color:#858585;transform:translateX(-50%);">200</span>
<span class="t" style="left:420.6px;top:240.2px;font-size:12px;line-height:24px;color:#858585;transform:translateX(-50%);">300</span>
<span class="t" style="left:462.6px;top:240.2px;font-size:12px;line-height:24px;color:#858585;transform:translateX(-50%);">400</span>
</section>
<section class="card" style="left:1330.8px;top:745px;width:564.1px;height:287.8px"><h2 class="ct" style="padding-top:2.9px;height:29.6px">生产总值</h2>
<span class="t" style="left:63.4px;top:50.0px;font-size:14px;line-height:28px;color:#2b2b2b;">2019上半年生产总值</span>
<span class="t" style="left:205.6px;top:46.3px;font-size:18px;line-height:36px;color:#1f8f79;font-weight:700;-webkit-text-stroke:0;letter-spacing:-0.3px;">195</span>
<span class="t" style="left:242.4px;top:50.0px;font-size:14px;line-height:28px;color:#2b2b2b;">亿元，增幅12.34%</span>
<span class="t" style="left:384.0px;top:50.0px;font-size:14px;line-height:28px;color:#2b2b2b;">目标值</span>
<span class="t" style="left:434.5px;top:46.3px;font-size:18px;line-height:36px;color:#1f8f79;font-weight:700;-webkit-text-stroke:0;letter-spacing:-0.3px;">430</span>
<span class="t" style="left:473.0px;top:50.0px;font-size:14px;line-height:28px;color:#2b2b2b;">亿元</span>
<span class="t" style="left:119.2px;top:164.5px;font-size:12px;line-height:24px;color:#7d7d7d;transform:translateX(-50%);">244</span>
<span class="t" style="left:120.2px;top:255.2px;font-size:12px;line-height:24px;color:#858585;transform:translateX(-50%);">2015</span>
<span class="t" style="left:189.7px;top:155.4px;font-size:12px;line-height:24px;color:#7d7d7d;transform:translateX(-50%);">271</span>
<span class="t" style="left:187.0px;top:255.2px;font-size:12px;line-height:24px;color:#858585;transform:translateX(-50%);">2016</span>
<span class="t" style="left:260.2px;top:146.4px;font-size:12px;line-height:24px;color:#7d7d7d;transform:translateX(-50%);">306</span>
<span class="t" style="left:260.2px;top:255.2px;font-size:12px;line-height:24px;color:#858585;transform:translateX(-50%);">2017</span>
<span class="t" style="left:331.4px;top:134.5px;font-size:12px;line-height:24px;color:#7d7d7d;transform:translateX(-50%);">354</span>
<span class="t" style="left:331.4px;top:255.2px;font-size:12px;line-height:24px;color:#858585;transform:translateX(-50%);">2018</span>
<span class="t" style="left:401.6px;top:121.9px;font-size:12px;line-height:24px;color:#7d7d7d;transform:translateX(-50%);">390</span>
<span class="t" style="left:402.6px;top:255.2px;font-size:12px;line-height:24px;color:#858585;transform:translateX(-50%);">2019</span>
<span class="t" style="left:472.5px;top:113.8px;font-size:12px;line-height:24px;color:#7d7d7d;transform:translateX(-50%);">430</span>
<span class="t" style="left:472.2px;top:255.2px;font-size:12px;line-height:24px;color:#858585;transform:translateX(-50%);">2020</span>
<svg class="a" style="left:0;top:0" width="566" height="288" viewBox="1330.8 745.0 566 288"><path d="M1418.400 971.6H1838.500" stroke="#dcdcdc" stroke-dasharray="3 3"/><path d="M1418.400 943.7H1838.500" stroke="#dcdcdc" stroke-dasharray="3 3"/><path d="M1418.400 913.8H1838.500" stroke="#dcdcdc" stroke-dasharray="3 3"/><path d="M1418.400 885.3H1838.500" stroke="#dcdcdc" stroke-dasharray="3 3"/><path d="M1418.400 858.8H1838.500" stroke="#dcdcdc" stroke-dasharray="3 3"/><path d="M1418.400 999.8H1838.500" stroke="#dedede"/><rect x="1725.500" y="889.500" width="14.800" height="110.3" fill="#edf6fd" stroke="#5ab0e8" stroke-width="1" stroke-dasharray="2 2"/><rect x="1796.400" y="881.700" width="13.200" height="118.1" fill="#edf6fd" stroke="#5ab0e8" stroke-width="1" stroke-dasharray="2 2"/><rect x="1441.6" y="929.9" width="16.1" height="69.9" fill="#2e9fdf"/><rect x="1512.8" y="922.5" width="16.1" height="77.3" fill="#2e9fdf"/><rect x="1582.6" y="910.8" width="16.5" height="89.0" fill="#2e9fdf"/><rect x="1654.2" y="899" width="16.1" height="100.8" fill="#2e9fdf"/><rect x="1725" y="944" width="15.8" height="55.8" fill="#2e9fdf"/></svg>
<span class="t" style="left:81.7px;top:102.6px;font-size:12px;line-height:24px;color:#858585;transform:translateX(-100%);">500</span>
<span class="t" style="left:81.7px;top:132.6px;font-size:12px;line-height:24px;color:#858585;transform:translateX(-100%);">400</span>
<span class="t" style="left:81.7px;top:157.8px;font-size:12px;line-height:24px;color:#858585;transform:translateX(-100%);">300</span>
<span class="t" style="left:81.7px;top:187.0px;font-size:12px;line-height:24px;color:#858585;transform:translateX(-100%);">200</span>
<span class="t" style="left:81.7px;top:215.5px;font-size:12px;line-height:24px;color:#858585;transform:translateX(-100%);">100</span>
<span class="t" style="left:81.7px;top:240.4px;font-size:12px;line-height:24px;color:#858585;transform:translateX(-100%);">0</span>
</section>
<div class="frame"></div>
</div>
</body>
</html>
